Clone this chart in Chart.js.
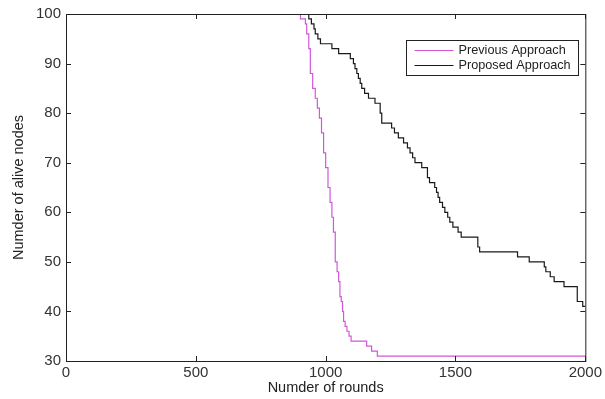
<!DOCTYPE html>
<html>
<head>
<meta charset="utf-8">
<script src="https://cdn.jsdelivr.net/npm/chart.js@4/dist/chart.umd.min.js"></script>
<style>
  html, body { margin: 0; padding: 0; background: #fff; }
  #wrap { width: 605px; height: 399px; position: relative; }
</style>
</head>
<body>
<div id="wrap"><canvas id="c"></canvas></div>
<script>
// rounds where the number of alive nodes changes (stair steps)
const prevRounds = [0, 903, 922, 927, 935, 941, 950, 960, 968, 976, 984, 992, 1000, 1009, 1017, 1024, 1030, 1037, 1044, 1050, 1055, 1060, 1065, 1069, 1075, 1082, 1090, 1098, 1158, 1177, 1199, 2000];
const prevAlive  = [100, 99, 98, 96, 93, 88, 85, 83, 81, 79, 76, 72, 69, 65, 62, 59, 56, 50, 48, 46, 43, 42, 40, 38, 37, 36, 35, 34, 33, 32, 31, 31];

const propRounds = [0, 935, 945, 955, 960, 970, 980, 1024, 1050, 1095, 1107, 1113, 1120, 1126, 1133, 1139, 1150, 1165, 1190, 1210, 1216, 1254, 1265, 1280, 1300, 1315, 1325, 1335, 1344, 1370, 1392, 1400, 1420, 1427, 1433, 1439, 1450, 1459, 1470, 1478, 1490, 1510, 1522, 1586, 1593, 1739, 1784, 1842, 1848, 1865, 1880, 1918, 1969, 1990, 2000];
const propAlive  = [100, 99, 98, 97, 96, 95, 94, 93, 92, 91, 90, 89, 88, 87, 86, 85, 84, 83, 82, 80, 78, 77, 76, 75, 74, 73, 72, 71, 70, 69, 67, 66, 65, 64, 63, 62, 61, 60, 59, 58, 57, 56, 55, 53, 52, 51, 50, 49, 48, 47, 46, 45, 42, 41, 41];

const xTicks = [0, 500, 1000, 1500, 2000];
const yTicks = [30, 40, 50, 60, 70, 80, 90, 100];

const seriesNames = ['Previous Approach', 'Proposed Approach'];
const seriesColors = ['#d058d8', '#1a1a1a'];

const FONT = 'Arial, "Liberation Sans", sans-serif';
const toPts = (xs, ys) => xs.map((x, i) => ({ x: x, y: ys[i] }));

// matlab-style box with inward ticks
const boxPlugin = {
  id: 'box',
  afterDatasetsDraw(chart) {
    const { ctx, chartArea: a, scales } = chart;
    ctx.save();
    ctx.strokeStyle = '#222';
    ctx.lineWidth = 1;
    ctx.strokeRect(a.left + 0.5, a.top + 0.5, a.right - a.left, a.bottom - a.top);
    ctx.beginPath();
    xTicks.forEach(v => {
      const px = Math.round(scales.x.getPixelForValue(v)) + 0.5;
      ctx.moveTo(px, a.bottom); ctx.lineTo(px, a.bottom - 5);
      ctx.moveTo(px, a.top); ctx.lineTo(px, a.top + 5);
    });
    yTicks.forEach(v => {
      const py = Math.round(scales.y.getPixelForValue(v)) + 0.5;
      ctx.moveTo(a.left, py); ctx.lineTo(a.left + 5, py);
      ctx.moveTo(a.right, py); ctx.lineTo(a.right - 5, py);
    });
    ctx.stroke();

    // legend box in the top right
    const lx = 406.5, ly = 40.5, lw = 172, lh = 35;
    ctx.fillStyle = '#fff';
    ctx.fillRect(lx, ly, lw, lh);
    ctx.strokeRect(lx, ly, lw, lh);
    ctx.font = '12.7px ' + FONT;
    ctx.textBaseline = 'middle';
    chart.data.datasets.forEach((ds, i) => {
      const y = ly + 10 + i * 15;
      ctx.strokeStyle = ds.borderColor;
      ctx.beginPath();
      ctx.moveTo(lx + 8, y); ctx.lineTo(lx + 47, y);
      ctx.stroke();
      ctx.fillStyle = '#222';
      ctx.fillText(ds.label, lx + 52, y);
    });
    ctx.restore();
  }
};

new Chart(document.getElementById('c'), {
  type: 'line',
  data: {
    datasets: [
      { label: seriesNames[0], data: toPts(prevRounds, prevAlive), borderColor: seriesColors[0], borderWidth: 1.2, stepped: 'before', pointRadius: 0 },
      { label: seriesNames[1], data: toPts(propRounds, propAlive), borderColor: seriesColors[1], borderWidth: 1.2, stepped: 'before', pointRadius: 0 }
    ]
  },
  options: {
    responsive: true, maintainAspectRatio: false, animation: false,
    layout: { padding: { top: 14, right: 17, left: 0, bottom: 0 } },
    plugins: { legend: { display: false }, tooltip: { enabled: false } },
    scales: {
      x: {
        type: 'linear', min: 0, max: 2000,
        afterBuildTicks: s => { s.ticks = xTicks.map(v => ({ value: v })); },
        afterFit: s => { s.height = 38; },
        grid: { display: false, drawTicks: false },
        border: { display: false },
        ticks: { color: '#333', padding: 3, font: { family: FONT, size: 15 }, callback: v => String(v) },
        title: { display: true, text: 'Numder of rounds', color: '#222', padding: { top: 0, bottom: 2 }, font: { family: FONT, size: 14.5 } }
      },
      y: {
        type: 'linear', min: 30, max: 100,
        afterBuildTicks: s => { s.ticks = yTicks.map(v => ({ value: v })); },
        afterFit: s => { s.width = 66; },
        grid: { display: false, drawTicks: false },
        border: { display: false },
        ticks: { color: '#333', padding: 5, font: { family: FONT, size: 15 }, callback: v => String(v) },
        title: { display: true, text: 'Numder of alive nodes', color: '#222', padding: { top: 10, bottom: 0 }, font: { family: FONT, size: 14.5 } }
      }
    }
  },
  plugins: [boxPlugin]
});
</script>
</body>
</html>
